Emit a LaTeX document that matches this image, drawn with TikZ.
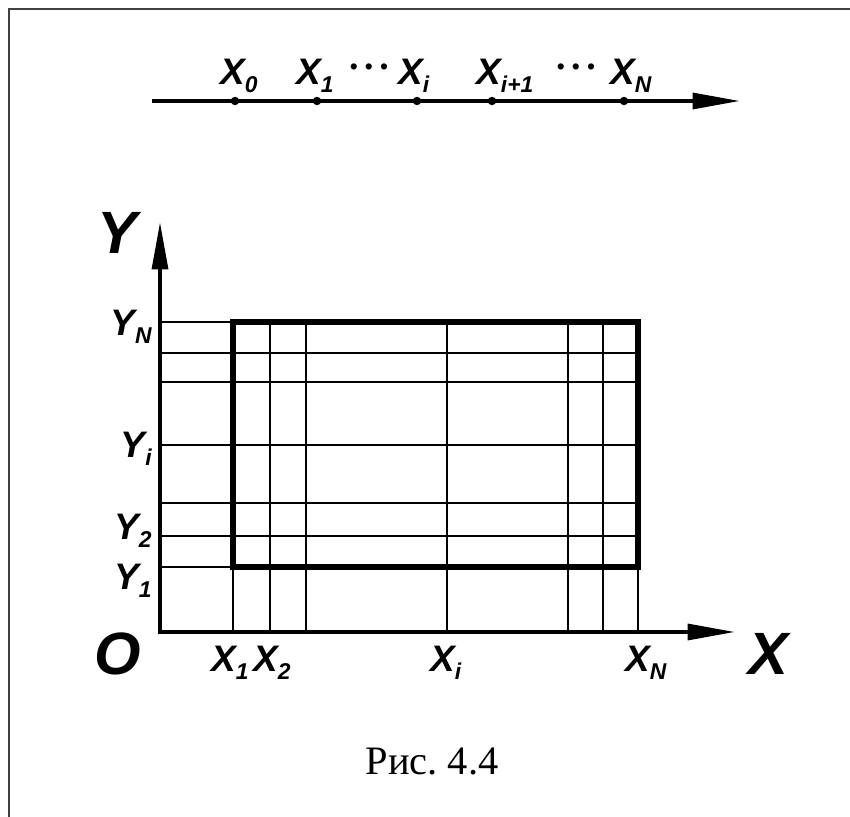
\documentclass[tikz,border=0pt]{standalone}
\usepackage{fontspec}
\setmainfont{Liberation Serif}
\newfontfamily\gostfont{Liberation Sans}
\usetikzlibrary{arrows.meta, positioning}

% letter with a lowered index
\newcommand{\idx}[2]{#1\raisebox{-0.2em}{\fontsize{13}{13}\selectfont #2}}

\begin{document}
\begin{tikzpicture}[x=0.02cm, y=-0.02cm]
    \tikzstyle{axis} = [line width=2.2pt, line join=miter, -{Triangle[length=27pt,width=9pt]}]
    \tikzstyle{gridline} = [line width=1.1pt]
    \tikzstyle{edge} = [line width=3.4pt, line join=miter]
    \tikzstyle{pt} = [circle, fill, inner sep=0pt, minimum size=4.8pt]
    \tikzstyle{lbl} = [inner sep=0pt, anchor=base west, font=\gostfont\bfseries\itshape\fontsize{21}{21}\selectfont]
    \tikzstyle{big} = [inner sep=0pt, anchor=base, font=\gostfont\bfseries\itshape\fontsize{34}{34}\selectfont]
    \tikzstyle{dotrow} = [inner sep=0pt, font=\gostfont\fontsize{13}{13}\selectfont]

    \useasboundingbox (0,0) rectangle (850,817);

    % Frame
    \draw[line width=1.2pt, black!75] (850,9) -- (9,9) -- (9,817);

    % Number line of the nodes
    \coordinate (tl) at (152,101);
    \coordinate (tr) at (740,101);
    \draw[axis] (tl) -- (tr);
    \foreach \n/\x in {p0/235, p1/317, pi/417, pj/492, pN/624}
        \node[pt] (\n) at (\x,101) {};
    \node[lbl] (lx0) at (220,85) {\idx{X}{0}};
    \node[lbl] (lx1) at (296,85) {\idx{X}{1}};
    \node[dotrow] (d1) at (369,69) {\textbullet\hspace{4pt}\textbullet\hspace{4pt}\textbullet};
    \node[lbl] (lxi) at (398,85) {\idx{X}{i}};
    \node[lbl] (lxj) at (476,85) {\idx{X}{i+1}};
    \node[dotrow] (d2) at (576,69) {\textbullet\hspace{4pt}\textbullet\hspace{4pt}\textbullet};
    \node[lbl] (lxN) at (610,85) {\idx{X}{N}};

    % Axes
    \coordinate (O) at (160,632);
    \coordinate (ytip) at (160,222);
    \coordinate (xtip) at (735,632);
    \draw[axis, {Triangle[length=27pt,width=9pt]}-{Triangle[length=27pt,width=9pt]}] (ytip) -- (O) -- (xtip);
    \node[big] (ly) at (117,254) {Y};
    \node[big] (lo) at (118,675) {O};
    \node[big] (lx) at (768,675) {X};

    % Grid
    \foreach \x in {233,270,306,447,568,603,638}
        \draw[gridline] (\x,632) -- (\x,322);
    \foreach \y in {322,353,382,445,503,536,567}
        \draw[gridline] (160,\y) -- (638,\y);

    % Region
    \draw[edge] (233,322) rectangle (638,567);

    % Grid labels
    \node[lbl, anchor=base east] (ly1) at (152,590) {\idx{Y}{1}};
    \node[lbl, anchor=base east] (ly2) at (152,540) {\idx{Y}{2}};
    \node[lbl, anchor=base east] (lyi) at (152,458) {\idx{Y}{i}};
    \node[lbl, anchor=base east] (lyN) at (152,336) {\idx{Y}{N}};
    \node[lbl] (lb1) at (211,672) {\idx{X}{1}};
    \node[lbl] (lb2) at (253,672) {\idx{X}{2}};
    \node[lbl] (lbi) at (430,672) {\idx{X}{i}};
    \node[lbl] (lbN) at (625,672) {\idx{X}{N}};

    % Caption
    \node[inner sep=0pt, anchor=base, font=\fontsize{23}{23}\selectfont] (cap) at (432,775) {Рис.\ 4.4};
\end{tikzpicture}
\end{document}
